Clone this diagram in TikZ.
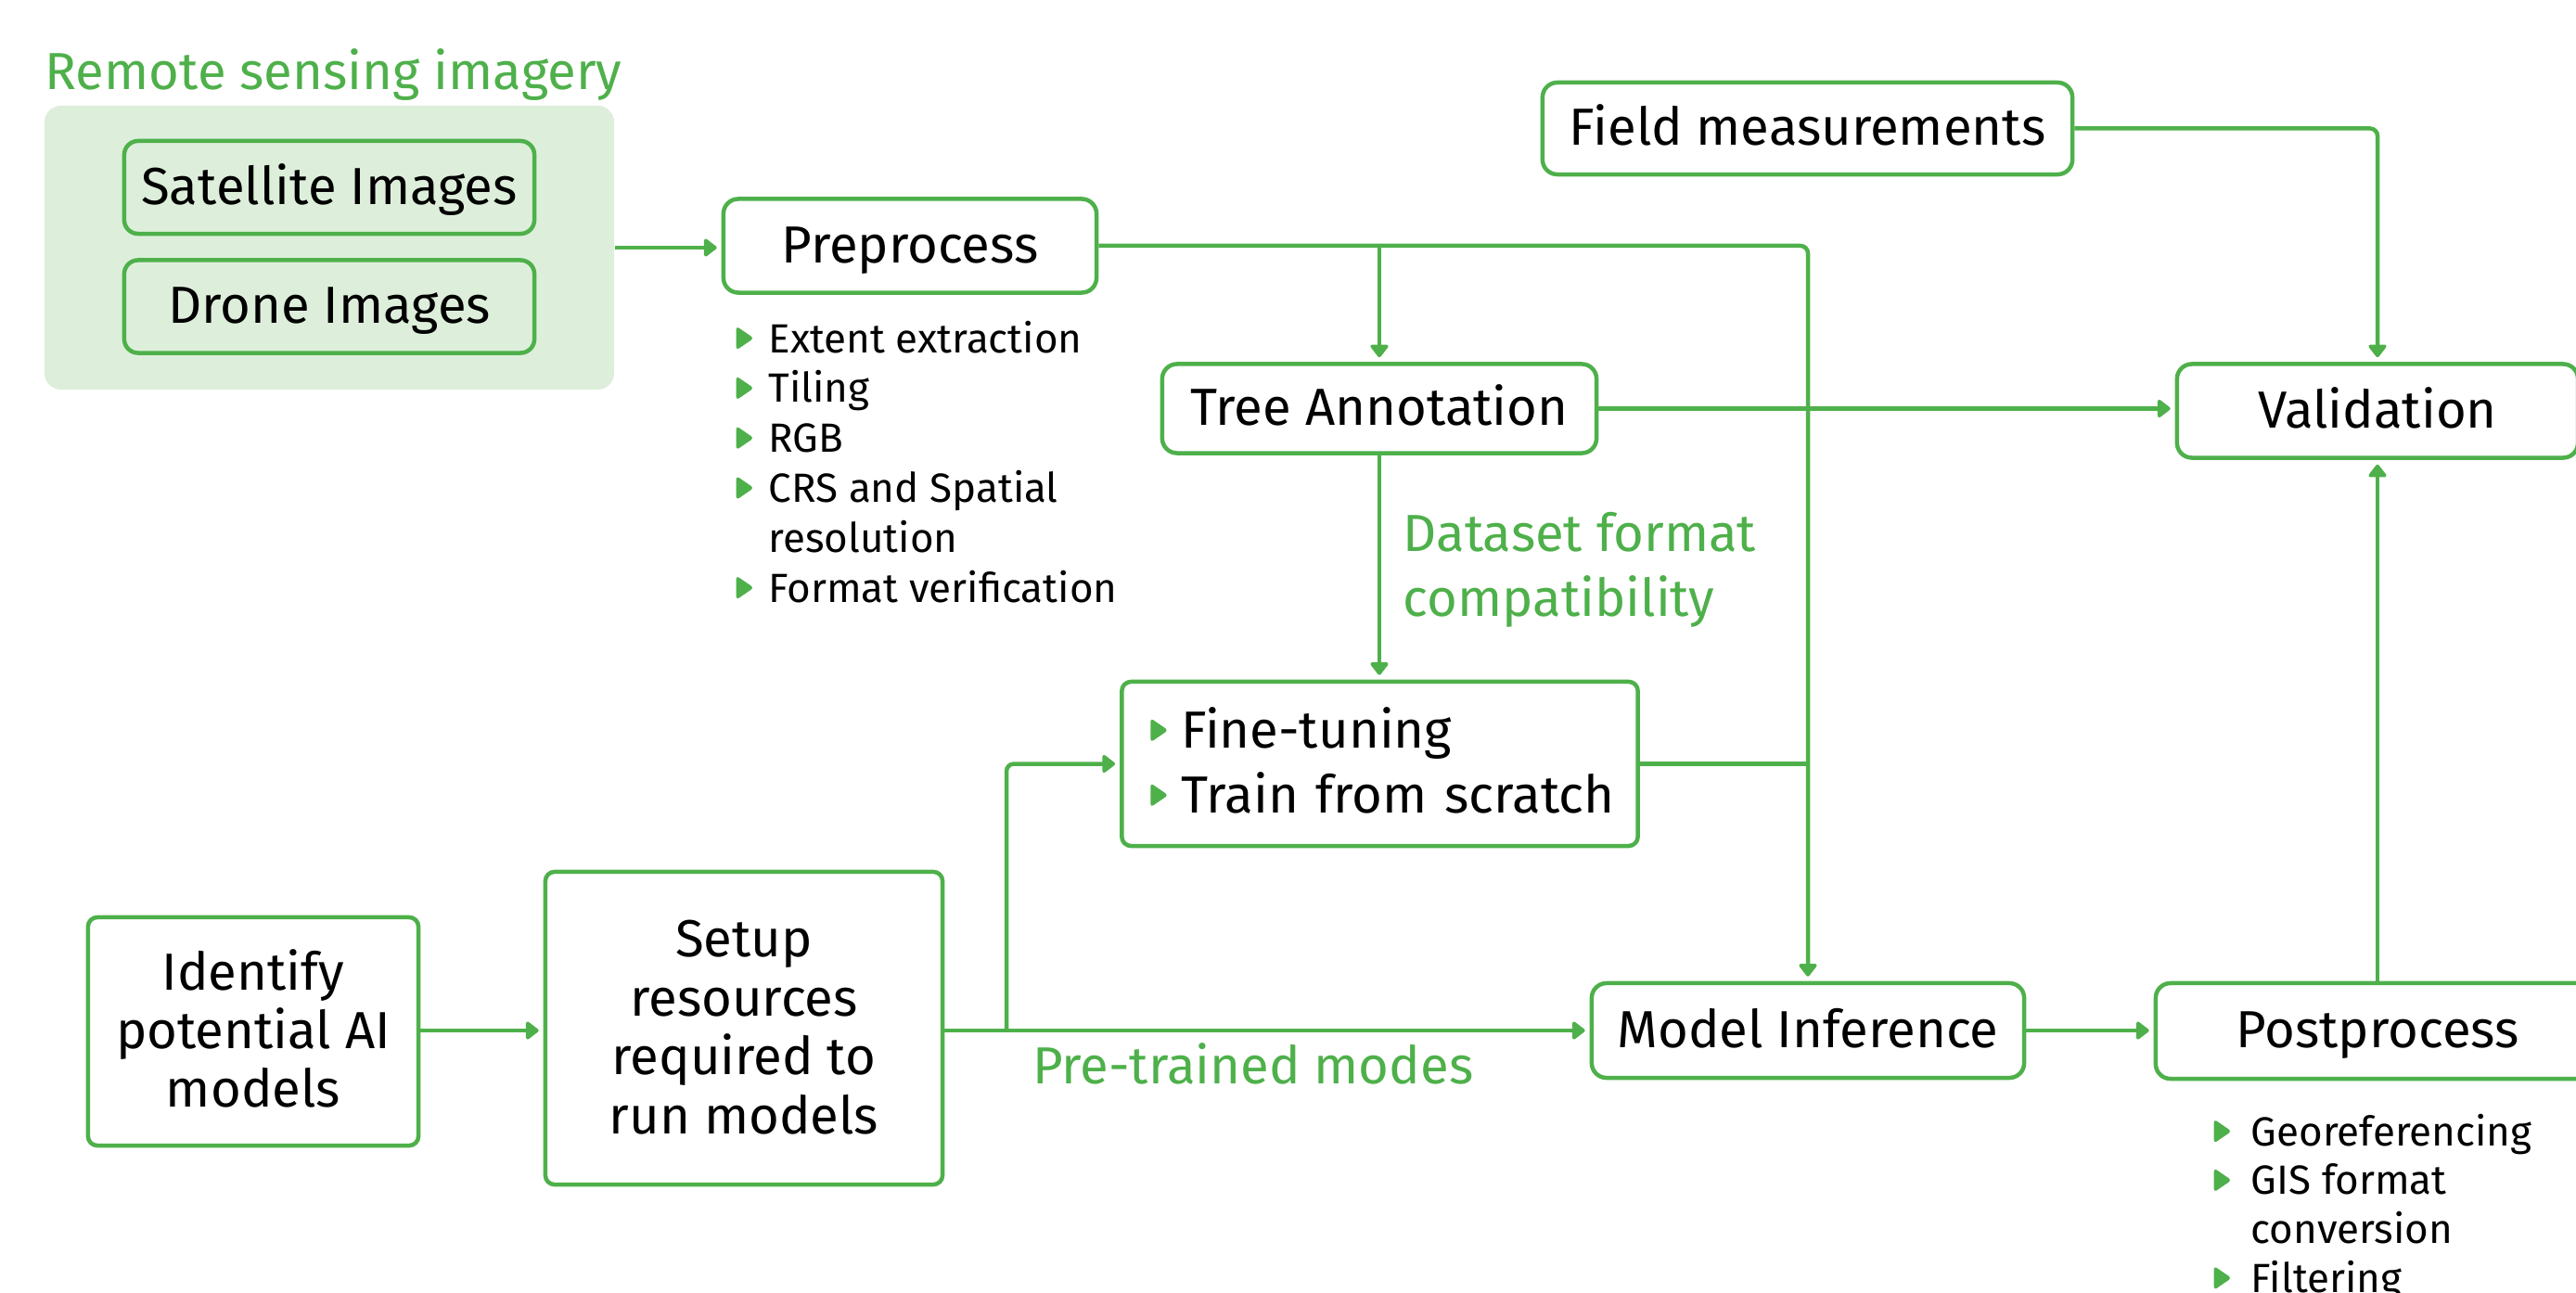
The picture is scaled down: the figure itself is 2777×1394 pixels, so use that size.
\documentclass[tikz,border=0pt]{standalone}
\usepackage{fontspec}
\setmainfont{Fira Sans}
\usetikzlibrary{arrows.meta}
\definecolor{gr}{RGB}{78,176,74}
\definecolor{lgr}{RGB}{221,239,219}
\newcommand{\tri}[1]{\raisebox{\dimexpr0.35em-3.7pt\relax}{\tikz[x=1pt,y=1pt]\fill[gr,rounded corners=1pt](0,0)--(0,7.4)--(5.4,3.7)--cycle;}\hspace{#1}}
\tikzset{
  box/.style={draw=gr, line width=0.045cm, rounded corners=0.16cm, fill=white,
    font=\fontsize{16}{19}\selectfont, text height=12pt, text depth=1.5pt,
    inner xsep=0.1cm, inner ysep=0pt},
  sqbox/.style={box, rounded corners=0.1cm},
  imgbox/.style={box, fill=lgr, rounded corners=0.15cm},
  lst/.style={inner sep=0pt, anchor=base west},
  glab/.style={inner sep=0pt, text=gr, font=\fontsize{16}{19.8}\selectfont},
  arr/.style={line width=0.045cm, draw=gr, -{Triangle[length=0.15cm,width=0.22cm,round]}, shorten >=0.05cm},
  ln/.style={line width=0.045cm, draw=gr},
}
\begin{document}
\begin{tikzpicture}[x=0.01cm, y=-0.01cm]
\useasboundingbox (0,0) rectangle (2777,1394);
\clip (0,0) rectangle (2777,1394);

% remote sensing group
\node[glab, anchor=base west] (rsi) at (48,97) {Remote sensing imagery};
\node[fill=lgr, rounded corners=0.18cm, minimum width=6.14cm, minimum height=3.06cm, inner sep=0pt] (rsbg) at (355,267) {};
\node[imgbox, minimum width=4.42cm, minimum height=1cm] (sat) at (355,202) {Satellite Images};
\node[imgbox, minimum width=4.42cm, minimum height=1cm] (drone) at (355,330.5) {Drone Images};

% main boxes
\node[box, minimum width=4.02cm, minimum height=1.01cm] (pre) at (981,265) {Preprocess};
\node[box, minimum width=5.71cm, minimum height=0.99cm] (field) at (1948.5,138.5) {Field measurements};
\node[box, minimum width=4.68cm, minimum height=0.96cm] (tree) at (1487,440.5) {Tree Annotation};
\node[box, minimum width=4.32cm, minimum height=1.01cm] (val) at (2563,443) {Validation};
\node[sqbox, minimum width=5.56cm, minimum height=1.77cm, text width=5.1cm, inner xsep=0.23cm, align=left,
  font=\fontsize{16}{19.9}\selectfont, text height=12pt, text depth=21.4pt] (fine) at (1487.5,823.5)
  {\hspace*{0.08cm}\tri{4pt}Fine-tuning\\\hspace*{0.08cm}\tri{4pt}Train from scratch};
\node[sqbox, minimum width=3.56cm, minimum height=2.46cm, align=center,
  font=\fontsize{16}{17.9}\selectfont, text height=47.8pt, text depth=1.5pt] (ident) at (273,1112)
  {Identify\\potential AI\\models};
\node[sqbox, minimum width=4.28cm, minimum height=3.37cm, align=center,
  font=\fontsize{16}{18.07}\selectfont, text height=66.2pt, text depth=1.5pt] (setup) at (802,1108.5)
  {Setup\\resources\\required to\\run models};
\node[box, minimum width=4.66cm, minimum height=1.02cm] (mi) at (1949,1111) {Model Inference};
\node[box, minimum width=4.78cm, minimum height=1.03cm] (post) at (2563,1111.5) {Postprocess};

% lists
\node[lst, font=\fontsize{12.5}{15.3}\selectfont] (prelist) at (793,380)
  {\begin{tabular}[t]{@{}l@{}}
   \tri{4.5pt}Extent extraction\\
   \tri{4.5pt}Tiling\\
   \tri{4.5pt}RGB\\
   \tri{4.5pt}CRS and Spatial\\
   \hphantom{\tri{4.5pt}}resolution\\
   \tri{4.5pt}Format verification
   \end{tabular}};
\node[lst, font=\fontsize{12.5}{15}\selectfont] (postlist) at (2386,1235)
  {\begin{tabular}[t]{@{}l@{}}
   \tri{6pt}Georeferencing\\
   \tri{6pt}GIS format\\
   \hphantom{\tri{6pt}}conversion\\
   \tri{6pt}Filtering
   \end{tabular}};

% green labels
\node[glab, anchor=base west] (dsf) at (1512,594.5)
  {\begin{tabular}[t]{@{}l@{}}Dataset format\\compatibility\end{tabular}};
\node[glab, anchor=base east] (ptm) at (1589,1168) {Pre-trained modes};

% connectors
\coordinate (b1) at (pre.east -| tree.north);
\coordinate (j2) at (mi.west -| 1085,0);
\draw[arr] (rsbg.east) -- (rsbg.east -| pre.west);
\draw[arr, rounded corners=0.08cm] (pre.east) -| (mi.north);
\draw[arr] (b1) -- (tree.north);
\draw[arr] (tree.south) -- (tree.south |- fine.north);
\draw[arr] (tree.east) -- (tree.east -| val.west);
\draw[arr, rounded corners=0.08cm] (field.east) -| (val.north);
\draw[ln] (fine.east) -- (fine.east -| mi.north);
\draw[arr] (ident.east |- mi.west) -- (mi.west -| setup.west);
\draw[arr] (mi.west -| setup.east) -- (mi.west);
\draw[arr, rounded corners=0.08cm] (j2) |- (fine.west);
\draw[arr] (mi.east) -- (mi.east -| post.west);
\draw[arr] (post.north) -- (val.south);
\end{tikzpicture}
\end{document}
